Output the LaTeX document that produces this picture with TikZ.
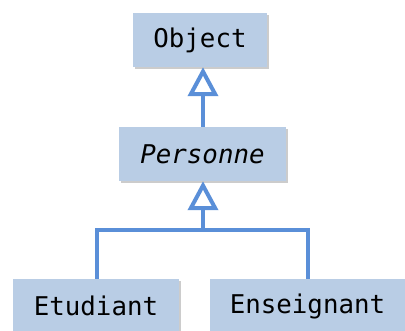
\documentclass[tikz,border=0pt]{standalone}
\usepackage{fontspec}
\setmonofont{DejaVu Sans Mono}
\usetikzlibrary{arrows.meta,shadows}
\definecolor{boxfill}{HTML}{B9CDE5}
\definecolor{linkblue}{HTML}{5A8FD8}
\begin{document}
\begin{tikzpicture}[x=1pt,y=1pt,
  cls/.style={fill=boxfill, draw=none, minimum height=54pt, inner sep=0pt,
    font=\ttfamily\fontsize{25.8}{30}\selectfont,
    drop shadow={shadow xshift=2pt, shadow yshift=-2pt, fill=black, opacity=0.2}},
  inh/.style={draw=linkblue, line width=4pt, -{Triangle[open, fill=white, length=29pt, width=30pt, line width=4pt]}},
  link/.style={draw=linkblue, line width=4pt}]
\useasboundingbox (0,0) rectangle (405,-331);
\clip (0,0) rectangle (405,-331);
\node[cls, minimum width=134pt] (object) at (200,-40) {Object};
\node[cls, minimum width=167pt] (personne) at (202.5,-154) {\itshape Personne};
\node[cls, minimum width=166pt] (etudiant) at (96,-306) {Etudiant};
\node[cls, minimum width=195pt] (enseignant) at (307.5,-306) {Enseignant};
\coordinate (j) at (203,-230);
\draw[link] (etudiant.north -| 97,0) |- (j) -| (enseignant.north -| 308,0);
\draw[inh] (j) -- (j |- personne.south);
\draw[inh] (personne.north -| 203,0) -- (object.south -| 203,0);
\end{tikzpicture}
\end{document}
